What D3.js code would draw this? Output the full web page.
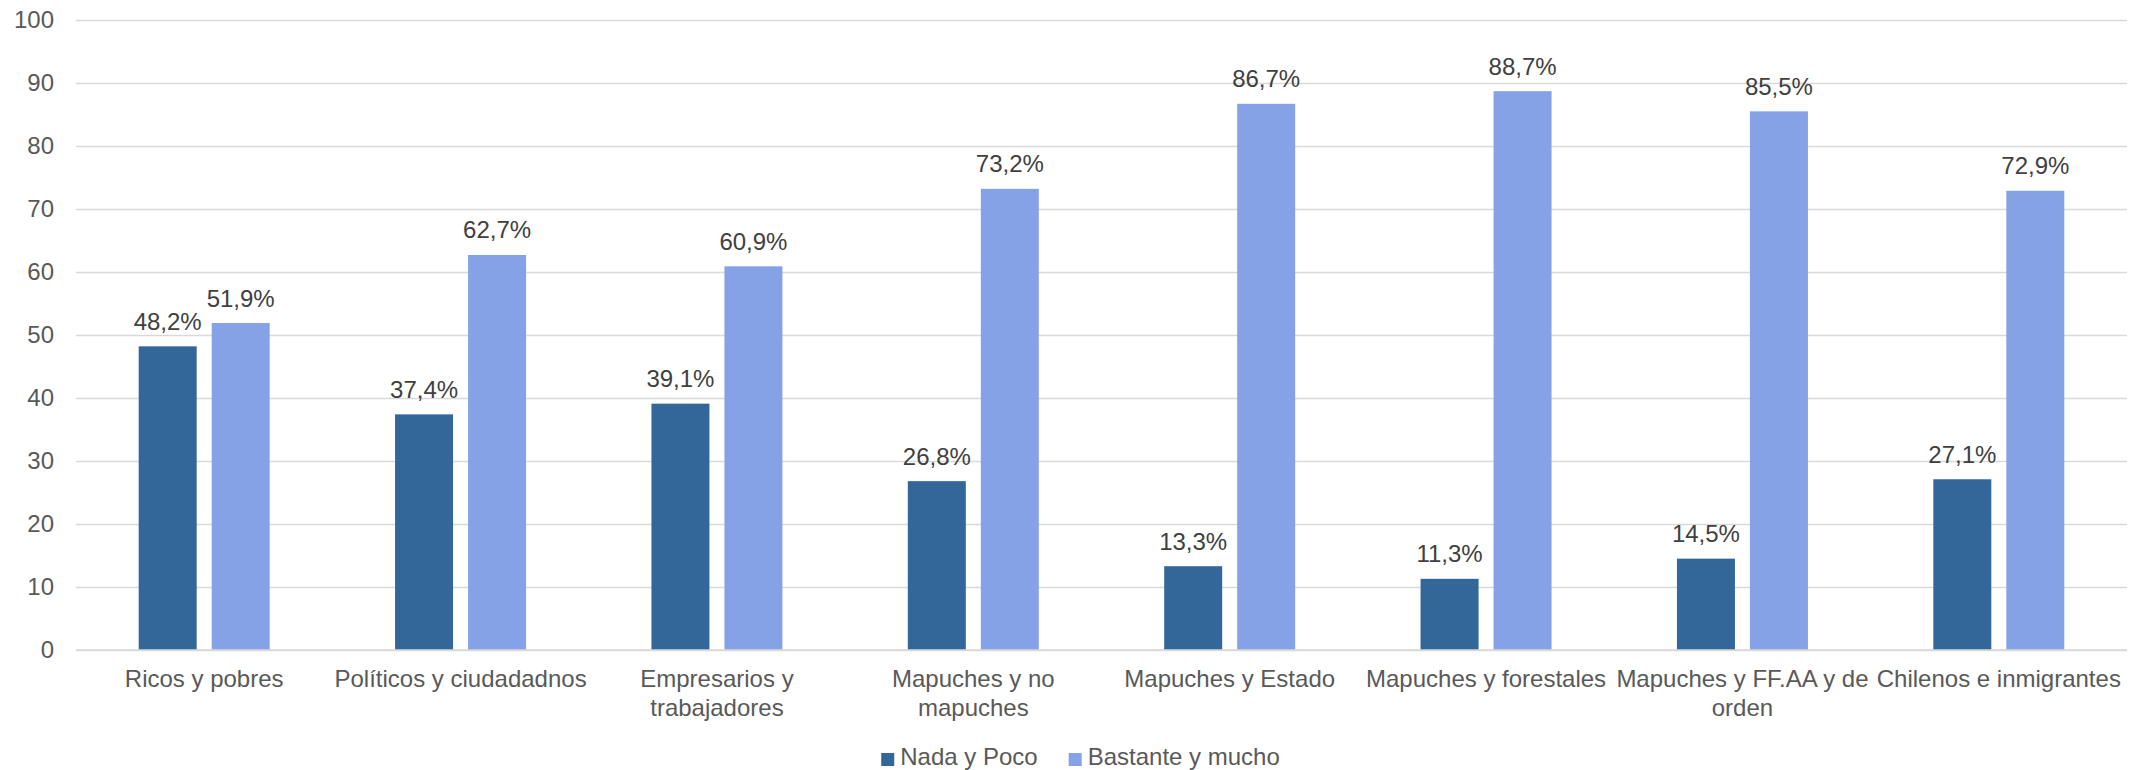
<!DOCTYPE html>
<html>
<head>
<meta charset="utf-8">
<script src="https://cdn.jsdelivr.net/npm/d3@7"></script>
<style>
  html, body { margin: 0; padding: 0; background: #fff; }
  svg { display: block; font-family: "Liberation Sans", Arial, sans-serif; }
</style>
</head>
<body>
<svg id="chart" width="2141" height="770"></svg>
<script>
const categories = [
  "Ricos y pobres",
  "Políticos y ciudadadnos",
  "Empresarios y trabajadores",
  "Mapuches y no mapuches",
  "Mapuches y Estado",
  "Mapuches y forestales",
  "Mapuches y FF.AA y de orden",
  "Chilenos e inmigrantes"
];
const seriesNames = ["Nada y Poco", "Bastante y mucho"];
const nadaYPoco = [48.2, 37.4, 39.1, 26.8, 13.3, 11.3, 14.5, 27.1];
const bastanteYMucho = [51.9, 62.7, 60.9, 73.2, 86.7, 88.7, 85.5, 72.9];
const yTicks = [0, 10, 20, 30, 40, 50, 60, 70, 80, 90, 100];
const colors = ["#336699", "#85A2E6"];

const seriesValues = [nadaYPoco, bastanteYMucho];
const svg = d3.select("#chart");
const W = 2141, H = 770;
const plot = { left: 76, right: 2127, top: 20, bottom: 650 };

const x0 = d3.scaleBand().domain(categories).range([plot.left, plot.right]).paddingInner(0).paddingOuter(0);
const barW = 58, barGap = 15;
const step = barW + barGap;
const bw = x0.bandwidth();
const pIn = barGap / step;
const pOut = ((bw / step) - 2 + pIn) / 2;
const x1 = d3.scaleBand().domain(seriesNames).range([0, bw]).paddingInner(pIn).paddingOuter(pOut);
const y = d3.scaleLinear().domain([0, 100]).range([plot.bottom, plot.top]);

// gridlines
const yAxis = d3.axisLeft(y).tickValues(yTicks).tickSize(-(plot.right - plot.left)).tickPadding(22).tickFormat(d3.format("d"));
const gy = svg.append("g").attr("transform", `translate(${plot.left},0)`).call(yAxis);
gy.select(".domain").remove();
gy.selectAll(".tick line").attr("stroke", "#d9d9d9").attr("stroke-width", 1.3);
gy.selectAll(".tick text").attr("fill", "#595959").attr("font-size", 24)
  .attr("font-family", "Liberation Sans, Arial, sans-serif");

// bars
const groups = svg.append("g").selectAll("g").data(categories).join("g")
  .attr("transform", d => `translate(${x0(d)},0)`);

groups.selectAll("rect").data((c, i) => seriesNames.map((s, k) => ({ s, k, v: seriesValues[k][i] })))
  .join("rect")
  .attr("x", d => x1(d.s))
  .attr("width", x1.bandwidth())
  .attr("y", d => y(d.v))
  .attr("height", d => y(0) - y(d.v))
  .attr("fill", d => colors[d.k]);

groups.selectAll("text.val").data((c, i) => seriesNames.map((s, k) => ({ s, k, v: seriesValues[k][i] })))
  .join("text")
  .attr("class", "val")
  .attr("x", d => x1(d.s) + x1.bandwidth() / 2)
  .attr("y", d => y(d.v) - 16.5)
  .attr("text-anchor", "middle")
  .attr("font-size", 24)
  .attr("fill", "#404040")
  .text(d => d3.format(".1f")(d.v).replace(".", ",") + "%");

// baseline axis line
svg.append("line").attr("x1", plot.left).attr("x2", plot.right)
  .attr("y1", y(0)).attr("y2", y(0)).attr("stroke", "#d9d9d9").attr("stroke-width", 1.5);

// category labels
const xAxis = d3.axisBottom(x0).tickSize(0).tickPadding(0);
const gx = svg.append("g").attr("transform", `translate(0,${plot.bottom})`).call(xAxis);
gx.select(".domain").remove();
gx.selectAll(".tick text").attr("font-size", 24).attr("fill", "#595959")
  .attr("font-family", "Liberation Sans, Arial, sans-serif")
  .attr("dy", null).attr("y", 37)
  .each(function(d) {
    const t = d3.select(this);
    const words = d.split(" ");
    const maxW = bw + 2;
    t.text(null);
    let lines = [];
    let line = [];
    const tmp = t.append("tspan").attr("x", 0);
    words.forEach(w => {
      line.push(w);
      tmp.text(line.join(" "));
      if (tmp.node().getComputedTextLength() > maxW && line.length > 1) {
        line.pop();
        lines.push(line.join(" "));
        line = [w];
      }
    });
    lines.push(line.join(" "));
    tmp.remove();
    lines.forEach((l, i) => {
      t.append("tspan").attr("x", 0).attr("y", 37 + i * 28.5).text(l);
    });
  });

// legend
const legend = svg.append("g");
const items = legend.selectAll("g").data(seriesNames).join("g");
items.append("rect").attr("width", 13).attr("height", 13).attr("y", -12).attr("fill", (d, i) => colors[i]);
items.append("text").attr("x", 19).attr("font-size", 24).attr("fill", "#595959").text(d => d);
let lx = 0;
items.each(function() {
  const g = d3.select(this);
  g.attr("transform", `translate(${lx},0)`);
  lx += 19 + g.select("text").node().getComputedTextLength() + 31;
});
const totalW = lx - 31;
legend.attr("transform", `translate(${W / 2 + 10 - totalW / 2},765)`);
</script>
</body>
</html>
